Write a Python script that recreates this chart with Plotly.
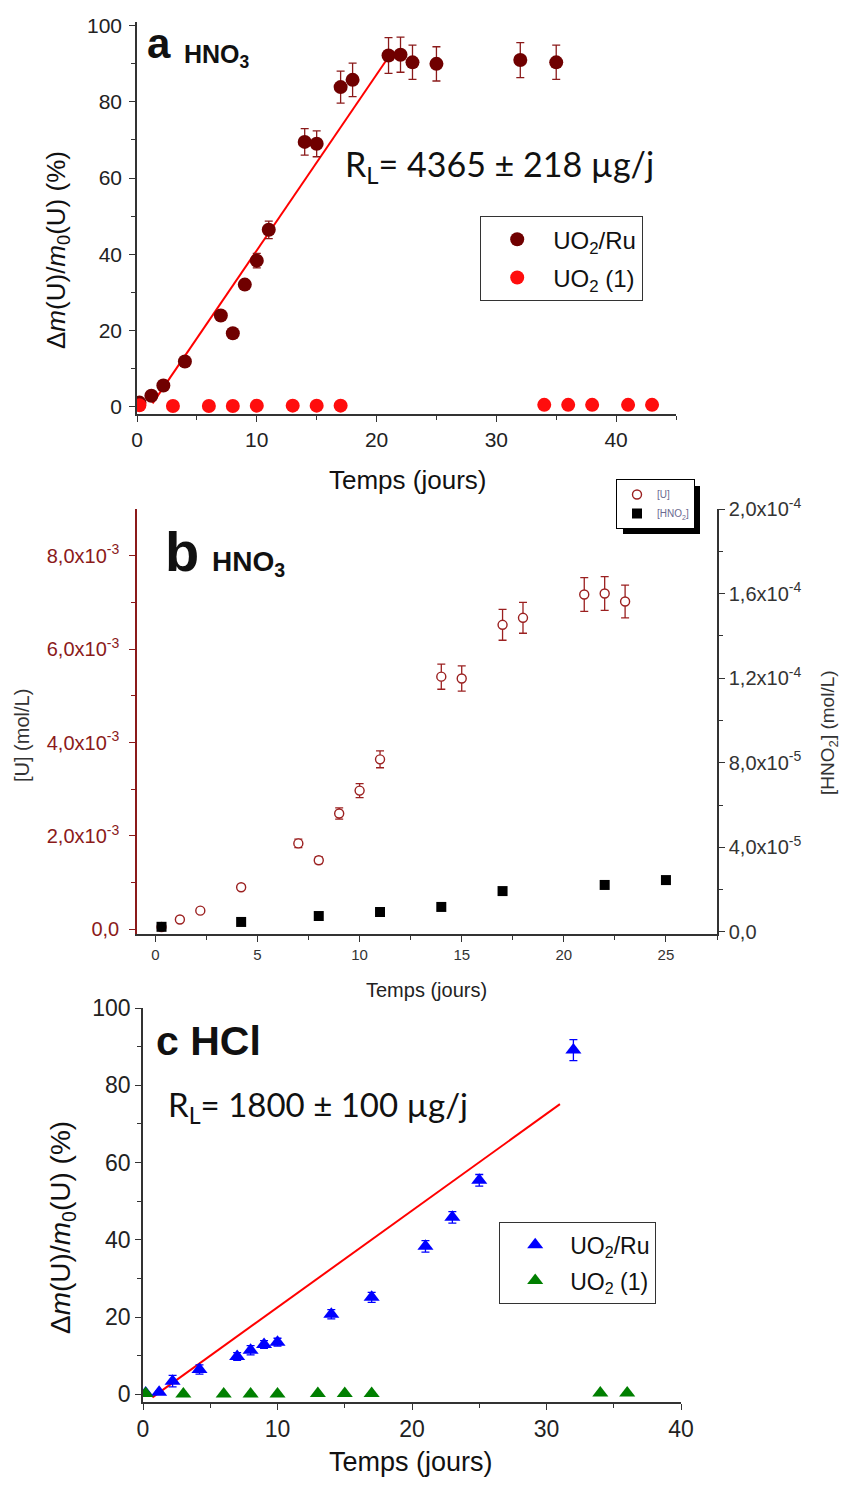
import plotly.graph_objects as go

# The page body has an 8px margin, so the figure is drawn 8px in from the window edge.
W, H = 848, 1486
OFF = 8
FW, FH = W - 2 * OFF, H - 2 * OFF

# ---------------- data ----------------
# Panel a (HNO3) : dissolution %
a_ru_x = [0.2, 1.2, 2.2, 4, 7, 8, 9, 10, 11, 14, 15, 17, 18, 21, 22, 23, 25, 32, 35]
a_ru_y = [1.0, 2.8, 5.5, 11.8, 23.9, 19.2, 32.0, 38.3, 46.4, 69.5, 69.0, 83.9, 85.8, 92.2, 92.4, 90.4, 90.0, 91.0, 90.4]
a_ru_err = [0.3, 0.4, 0.5, 0.6, 1.0, 0.8, 1.2, 1.9, 2.3, 3.5, 3.4, 4.2, 4.4, 4.7, 4.6, 4.5, 4.5, 4.6, 4.5]
a_uo2_x = [0.2, 3, 6, 8, 10, 13, 15, 17, 34, 36, 38, 41, 43]
a_uo2_y = [0.3, 0.1, 0.1, 0.1, 0.2, 0.2, 0.2, 0.2, 0.4, 0.4, 0.4, 0.4, 0.4]
a_fit_x = [1.3, 21.0]
a_fit_y = [0.8, 91.8]

# Panel b (HNO3) : concentrations
b_u_x = [0.3, 1.2, 2.2, 4.2, 7.0, 8.0, 9.0, 10.0, 11.0, 14.0, 15.0, 17.0, 18.0, 21.0, 22.0, 23.0]
b_u_y = [0.05e-3, 0.21e-3, 0.40e-3, 0.90e-3, 1.84e-3, 1.48e-3, 2.48e-3, 2.97e-3, 3.64e-3,
         5.41e-3, 5.37e-3, 6.52e-3, 6.67e-3, 7.17e-3, 7.19e-3, 7.02e-3]
b_u_err = [0.005e-3, 0.02e-3, 0.04e-3, 0.05e-3, 0.09e-3, 0.07e-3, 0.12e-3, 0.15e-3, 0.18e-3,
           0.27e-3, 0.27e-3, 0.33e-3, 0.33e-3, 0.36e-3, 0.36e-3, 0.35e-3]
b_hno2_x = [0.3, 4.2, 8.0, 11.0, 14.0, 17.0, 22.0, 25.0]
b_hno2_y = [2.4e-6, 4.7e-6, 7.5e-6, 9.4e-6, 11.8e-6, 19.3e-6, 22.2e-6, 24.5e-6]

b_left_vals = [0, 2e-3, 4e-3, 6e-3, 8e-3]
b_left_text = ["0,0", "2,0x10<sup>-3</sup>", "4,0x10<sup>-3</sup>", "6,0x10<sup>-3</sup>", "8,0x10<sup>-3</sup>"]
b_right_vals = [0, 4e-5, 8e-5, 1.2e-4, 1.6e-4, 2.0e-4]
b_right_text = ["0,0", "4,0x10<sup>-5</sup>", "8,0x10<sup>-5</sup>", "1,2x10<sup>-4</sup>",
                "1,6x10<sup>-4</sup>", "2,0x10<sup>-4</sup>"]

# Panel c (HCl)
c_ru_x = [0.2, 1.2, 2.2, 4.2, 7.0, 8.0, 9.0, 10.0, 14.0, 17.0, 21.0, 23.0, 25.0, 32.0]
c_ru_y = [0.3, 0.5, 3.4, 6.4, 9.8, 11.4, 12.9, 13.5, 20.7, 25.1, 38.3, 45.8, 55.4, 89.1]
c_ru_err = [0.2, 0.3, 1.5, 1.2, 1.0, 1.2, 1.0, 1.0, 1.2, 1.3, 1.5, 1.5, 1.5, 2.7]
c_uo2_x = [0.2, 3, 6, 8, 10, 13, 15, 17, 34, 36]
c_uo2_y = [0.2, 0.1, 0.1, 0.1, 0.1, 0.2, 0.2, 0.2, 0.3, 0.3]
c_fit_x = [0.7, 31.0]
c_fit_y = [-0.8, 75.1]

# ---------------- helpers ----------------
def px(x):
    return (x - OFF) / FW

def py(y):
    return 1 - (y - OFF) / FH

AX = "#333333"
SANS = "Liberation Sans, Arial, sans-serif"
CAL = "Lato, Open Sans, sans-serif"

fig = go.Figure()

# Panel a
fig.add_trace(go.Scatter(x=a_fit_x, y=a_fit_y, mode="lines", line=dict(color="#ff0000", width=2),
                         showlegend=False, xaxis="x", yaxis="y"))
fig.add_trace(go.Scatter(x=a_ru_x, y=a_ru_y, mode="markers", name="UO<sub>2</sub>/Ru",
                         marker=dict(color="#700000", size=14, symbol="circle"),
                         error_y=dict(type="data", array=a_ru_err, color="#8b1a1a", thickness=1.3, width=4),
                         xaxis="x", yaxis="y", legend="legend", legendgroup="a1"))
fig.add_trace(go.Scatter(x=a_uo2_x, y=a_uo2_y, mode="markers", name="UO<sub>2</sub> (1)",
                         marker=dict(color="#ff0d0d", size=14, symbol="circle"),
                         xaxis="x", yaxis="y", legend="legend", legendgroup="a2"))

# Panel b
fig.add_trace(go.Scatter(x=b_u_x, y=b_u_y, mode="markers", name="[U]",
                         marker=dict(color="white", size=9, symbol="circle",
                                     line=dict(color="#9b2020", width=1.4)),
                         error_y=dict(type="data", array=b_u_err, color="#9b2020", thickness=1.3, width=4),
                         xaxis="x2", yaxis="y2", legend="legend2"))
fig.add_trace(go.Scatter(x=b_hno2_x, y=b_hno2_y, mode="markers", name="[HNO<sub>2</sub>]",
                         marker=dict(color="black", size=10, symbol="square"),
                         xaxis="x2", yaxis="y3", legend="legend2"))

# Panel c
fig.add_trace(go.Scatter(x=c_fit_x, y=c_fit_y, mode="lines", line=dict(color="#ff0000", width=2),
                         showlegend=False, xaxis="x3", yaxis="y4"))
fig.add_trace(go.Scatter(x=c_ru_x, y=c_ru_y, mode="markers", name="UO<sub>2</sub>/Ru",
                         marker=dict(color="#0000ff", size=14, symbol="triangle-up"),
                         error_y=dict(type="data", array=c_ru_err, color="#0000ff", thickness=1.3, width=4),
                         xaxis="x3", yaxis="y4", legend="legend3", legendgroup="c1"))
fig.add_trace(go.Scatter(x=c_uo2_x, y=c_uo2_y, mode="markers", name="UO<sub>2</sub> (1)",
                         marker=dict(color="#007f00", size=14, symbol="triangle-up"),
                         xaxis="x3", yaxis="y4", legend="legend3", legendgroup="c2"))

def axis_common(color=AX, size=19, font_color="#222222", standoff=0):
    return dict(showline=True, linecolor=color, linewidth=1.5, ticks="outside", ticklen=6,
                tickwidth=1.3, tickcolor=color, showgrid=False, zeroline=False, automargin=False,
                ticklabelstandoff=standoff,
                tickfont=dict(family=SANS, size=size, color=font_color))

# domains (reference pixel positions)
a_x = [px(137), px(676)]
a_y = [py(414), py(22)]
b_x = [px(137), px(717)]
b_y = [py(934), py(509)]
c_x = [px(143), px(681)]
c_y = [py(1402), py(1008)]

layout = dict(
    template="none",
    width=FW, height=FH, autosize=False,
    margin=dict(l=0, r=0, t=0, b=0, pad=0),
    paper_bgcolor="white", plot_bgcolor="rgba(0,0,0,0)",
    xaxis=dict(domain=a_x, anchor="y", range=[0, 45], tickvals=[0, 10, 20, 30, 40],
               minor=dict(tickvals=[5, 15, 25, 35, 45], ticks="outside", ticklen=4, tickcolor=AX),
               **axis_common(size=21)),
    yaxis=dict(domain=a_y, anchor="x", range=[-2, 101], tickvals=[0, 20, 40, 60, 80, 100],
               minor=dict(tickvals=[10, 30, 50, 70, 90], ticks="outside", ticklen=4, tickcolor=AX),
               **axis_common(size=21, standoff=3)),
    xaxis2=dict(domain=b_x, anchor="y2", range=[-0.9, 27.5], tickvals=[0, 5, 10, 15, 20, 25],
                minor=dict(tickvals=[2.5, 7.5, 12.5, 17.5, 22.5, 27.5], ticks="outside", ticklen=4, tickcolor=AX),
                **axis_common(size=15, font_color="#333333")),
    yaxis2=dict(domain=b_y, anchor="x2", range=[-0.1e-3, 9e-3], tickvals=b_left_vals, ticktext=b_left_text,
                minor=dict(tickvals=[1e-3, 3e-3, 5e-3, 7e-3], ticks="outside", ticklen=4, tickcolor="#8b1a1a"),
                **axis_common(color="#8b1a1a", size=20, font_color="#8b1a1a", standoff=6)),
    yaxis3=dict(anchor="x2", overlaying="y2", side="right", range=[-1e-6, 2.0e-4],
                tickvals=b_right_vals, ticktext=b_right_text,
                minor=dict(tickvals=[2e-5, 6e-5, 1.0e-4, 1.4e-4, 1.8e-4], ticks="outside", ticklen=4, tickcolor=AX),
                **axis_common(size=20, font_color="#333333")),
    xaxis3=dict(domain=c_x, anchor="y4", range=[0, 40], tickvals=[0, 10, 20, 30, 40],
                minor=dict(tickvals=[5, 15, 25, 35], ticks="outside", ticklen=4, tickcolor=AX),
                **axis_common(size=23)),
    yaxis4=dict(domain=c_y, anchor="x3", range=[-2, 100], tickvals=[0, 20, 40, 60, 80, 100],
                minor=dict(tickvals=[10, 30, 50, 70, 90], ticks="outside", ticklen=4, tickcolor=AX),
                **axis_common(size=23)),
    legend=dict(x=px(480), y=py(216), xanchor="left", yanchor="top", bgcolor="white",
                bordercolor="#333333", borderwidth=1.2, itemwidth=62, tracegroupgap=4,
                font=dict(family=SANS, size=24, color="#111111")),
    legend2=dict(x=px(616), y=py(479), xanchor="left", yanchor="top", bgcolor="white",
                 bordercolor="#000000", borderwidth=1,
                 font=dict(family=SANS, size=10, color="#6a6a90")),
    legend3=dict(x=px(499), y=py(1222), xanchor="left", yanchor="top", bgcolor="white",
                 bordercolor="#333333", borderwidth=1.2, itemwidth=60, tracegroupgap=3,
                 font=dict(family=SANS, size=23, color="#111111")),
    shapes=[dict(type="rect", xref="paper", yref="paper", x0=px(623), x1=px(700), y0=py(534), y1=py(486),
                 fillcolor="black", line=dict(width=0), layer="above")],
)

ann = []
def A(text, x, y, size, family=SANS, color="#111111", xanchor="center", yanchor="middle", angle=0):
    ann.append(dict(text=text, x=px(x), y=py(y), xref="paper", yref="paper", showarrow=False,
                    xanchor=xanchor, yanchor=yanchor, textangle=angle,
                    font=dict(family=family, size=size, color=color)))

# panel a texts
A("<b>a</b>", 145, 44, 42, xanchor="left")
A("<b>HNO<sub>3</sub></b>", 182, 56, 25, xanchor="left")
A("R<sub>L</sub>= 4365 ± 218 µg/j", 343, 166, 34, family=CAL, xanchor="left")
A("Δ<i>m</i>(U)/<i>m</i><sub>0</sub>(U) (%)", 57, 250, 26, angle=-90)
A("Temps (jours)", 407, 480, 26)

# panel b texts
A("<b>b</b>", 163, 551, 56, xanchor="left")
A("<b>HNO<sub>3</sub></b>", 210, 563, 28, xanchor="left")
A("[U] (mol/L)", 22, 736, 20, color="#333333", angle=-90)
A("[HNO<sub>2</sub>] (mol/L)", 829, 733, 19, color="#333333", angle=-90)
A("Temps (jours)", 426, 990, 20, color="#222222")

# panel c texts
A("<b>c HCl</b>", 154, 1041, 41, xanchor="left")
A("R<sub>L</sub>= 1800 ± 100 µg/j", 166, 1106, 33, family=CAL, xanchor="left")
A("Δ<i>m</i>(U)/<i>m</i><sub>0</sub>(U) (%)", 62, 1228, 28, angle=-90)
A("Temps (jours)", 411, 1462, 27)

layout["annotations"] = ann
fig.update_layout(**layout)

fig.write_html("out.html")
